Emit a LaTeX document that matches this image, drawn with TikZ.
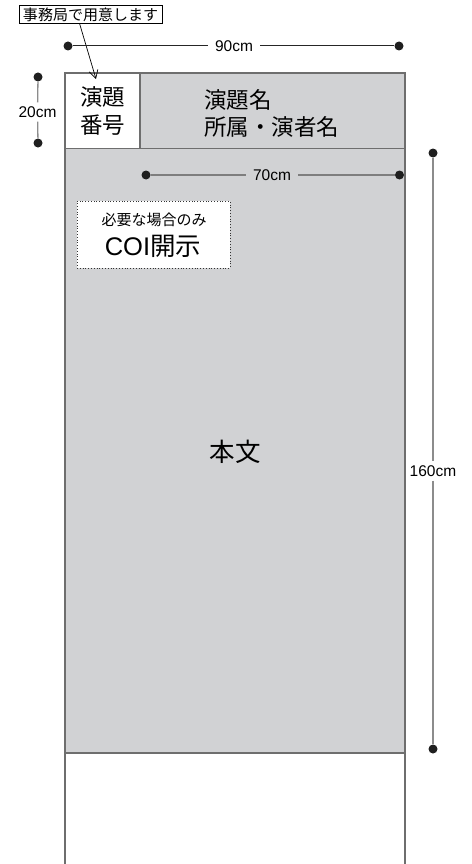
\documentclass[tikz,border=0pt]{standalone}
\usepackage{fontspec}
\setmainfont{Noto Sans CJK JP}
\newfontfamily\latf{Liberation Sans}
\usetikzlibrary{arrows.meta}
\definecolor{panelgray}{HTML}{D1D2D4}
\definecolor{edgegray}{HTML}{6E6E6E}
\definecolor{dimgray}{HTML}{8C8C8C}
\begin{document}
\begin{tikzpicture}[x=1pt,y=-1pt,
  dot/.style={circle,fill=black!88,inner sep=0pt,minimum size=9pt},
  dimlabel/.style={fill=white,font=\latf\fontsize{15.5}{15.5}\selectfont,inner sep=0pt},
  hdim/.style={dimlabel,inner xsep=7pt},
  vdim/.style={dimlabel,inner ysep=4pt},
  dimline/.style={line width=1pt,black!85},
  vdimline/.style={line width=1.3pt,dimgray},
  edge/.style={line width=1.2pt,edgegray},
  jtext/.style={font=\fontsize{22.5}{27.5}\selectfont,align=center,inner sep=0pt}]
\useasboundingbox (0,0) rectangle (471,864);

% panel fills
\fill[panelgray] (140,73) rectangle (405,148.5);
\fill[panelgray] (65,148.5) rectangle (405,753);
% panel edges
\draw[edge] (65,864) -- (65,73) -- (405,73) -- (405,864);
\draw[edge] (140,73) -- (140,148.5);
\draw[edge] (65,148.5) -- (405,148.5);
\draw[edge] (65,753) -- (405,753);

% header texts
\node[jtext] (num) at (102.5,111) {演題\\番号};
\node[jtext,align=left,anchor=west] (title) at (204,113.5) {演題名\\所属・演者名};

% body text
\node[font=\fontsize{25.5}{25.5}\selectfont,inner sep=0pt] (body) at (235,452) {本文};

% COI box
\node[draw=black!80,dotted,line width=0.8pt,fill=white,minimum width=153pt,minimum height=67pt,inner sep=0pt] (coibox) at (153.5,234.5) {};
\node[font=\fontsize{15}{15}\selectfont,inner sep=0pt] (coinote) at (154,220) {必要な場合のみ};
\node[font=\fontsize{25.5}{25.5}\selectfont,inner sep=0pt] (coititle) at (153,246) {{\latf COI}開示};

% staff label and arrow
\node[draw=black,line width=0.8pt,font=\fontsize{15}{15}\selectfont,minimum width=143pt,minimum height=17.5pt,inner sep=0pt] (staff) at (90.5,14.5) {事務局で用意します};
\coordinate (arrowtip) at (96,79);
\draw[line width=0.7pt,-{Straight Barb[length=8pt,width=9pt]}] ([xshift=61pt]staff.south west) -- (arrowtip);

% 90cm dimension
\node[dot] (d90a) at (68,46) {};
\node[dot] (d90b) at (399,46) {};
\node[hdim] (l90) at (234,46) {90cm};
\draw[dimline] (d90a) -- (l90) -- (d90b);

% 70cm dimension
\node[dot] (d70a) at (146,175) {};
\node[dot] (d70b) at (399.5,175) {};
\node[hdim,fill=panelgray] (l70) at (272,175) {70cm};
\draw[line width=1.2pt,dimgray!90!black] (d70a) -- (l70) -- (d70b);

% 20cm dimension
\node[dot] (d20a) at (38,77) {};
\node[dot] (d20b) at (38,143) {};
\node[vdim] (l20) at (37.5,112) {20cm};
\draw[vdimline] (d20a) -- (l20) -- (d20b);

% 160cm dimension
\node[dot] (d160a) at (433,153) {};
\node[dot] (d160b) at (433,749) {};
\node[vdim] (l160) at (433,471) {160cm};
\draw[vdimline] (d160a) -- (l160) -- (d160b);
\end{tikzpicture}
\end{document}
